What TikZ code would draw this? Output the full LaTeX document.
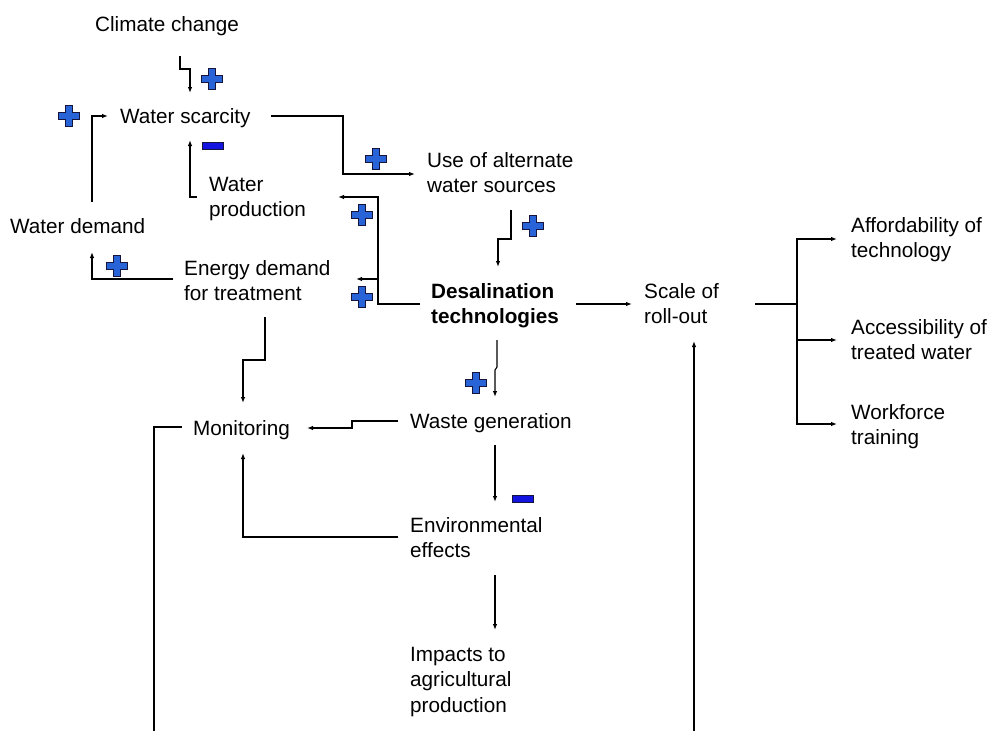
\documentclass[tikz,border=0pt]{standalone}
\usepackage{fontspec}
\setmainfont{Liberation Sans}
\usepackage{tikz}
\usetikzlibrary{arrows.meta}

\definecolor{plusblue}{RGB}{40,100,215}
\definecolor{minusblue}{RGB}{20,20,225}
\definecolor{signline}{RGB}{20,20,60}

\tikzset{
  lbl/.style={anchor=north west, inner sep=0pt, align=left, font=\fontsize{20.7}{25.5}\selectfont},
  link/.style={line width=1.1pt, -{Latex[length=6pt,width=4.5pt]}},
  wire/.style={line width=1.1pt},
  plus/.pic={\draw[signline, fill=plusblue, line width=0.8pt]
    (-3.8,-10.5) -- (3.8,-10.5) -- (3.8,-3.8) -- (10.5,-3.8) -- (10.5,3.8) -- (3.8,3.8)
    -- (3.8,10.5) -- (-3.8,10.5) -- (-3.8,3.8) -- (-10.5,3.8) -- (-10.5,-3.8) -- (-3.8,-3.8) -- cycle;},
  minus/.pic={\draw[signline, fill=minusblue, line width=0.8pt] (-10.5,-3.2) rectangle (10.5,3.2);}
}

\begin{document}
\begin{tikzpicture}[x=1pt, y=-1pt]
                    \useasboundingbox (0,0) rectangle (989,731);
                    % factors
                    \node[lbl] (cc) at (95,16) {Climate change};
                    \node[lbl] (ws) at (120,108) {Water scarcity};
                    \node[lbl] (alt) at (427,152) {Use of alternate\\water sources};
                    \node[lbl] (wp) at (209,177) {Water\\production};
                    \node[lbl] (wd) at (10,218) {Water demand};
                    \node[lbl] (ed) at (184,260) {Energy demand\\for treatment};
                    \node[lbl, font=\fontsize{20.7}{25.5}\selectfont\bfseries] (des) at (431,283) {Desalination\\technologies};
                    \node[lbl] (scale) at (644,283) {Scale of\\roll-out};
                    \node[lbl] (aff) at (851,217) {Affordability of\\technology};
                    \node[lbl] (acc) at (851,319) {Accessibility of\\treated water};
                    \node[lbl] (wf) at (851,404) {Workforce\\training};
                    \node[lbl] (mon) at (193,420) {Monitoring};
                    \node[lbl] (wg) at (410,413) {Waste generation};
                    \node[lbl] (env) at (410,517) {Environmental\\effects};
                    \node[lbl] (imp) at (410,647) {Impacts to\\agricultural\\production};
                    % connector ends
                    \coordinate (cc-out) at (180,56);
                    \coordinate (ws-in) at (190,93);
                    \coordinate (ws-out) at (271,116);
                    \coordinate (alt-in) at (415,174);
                    \coordinate (alt-out) at (511,210);
                    \coordinate (des-in) at (495,397);
                    \coordinate (des-top) at (498,267);
                    \coordinate (des-out) at (420,304);
                    \coordinate (des-right) at (576,304);
                    \coordinate (des-low) at (497,340);
                    \coordinate (scale-in) at (632,304);
                    \coordinate (scale-out) at (755,304);
                    \coordinate (fork) at (797,304);
                    \coordinate (mon-in) at (243,403);
                    \coordinate (mon-out) at (182,427);
                    \coordinate (bottom-l) at (154,731);
                    \coordinate (bottom-r) at (694,731);
                    % links
                    \draw[link] (cc-out) -- (180,69) -- (190,69) -- (ws-in);
                    \draw[link] (92,202) |- (108,116);
                    \draw[link] (197,197) -| (190,140);
                    \draw[link] (173,279) -| (92,252);
                    \draw[link] (ws-out) -| (343,174) -- (alt-in);
                    \draw[link] (alt-out) -- (511,239) -- (498,239) -- (des-top);
                    \draw[link] (des-out) -| (378,197) -- (338,197);
                    \draw[link] (378,279) -- (356,279);
                    \draw[link] (des-right) -- (scale-in);
                    \draw[wire] (scale-out) -- (fork);
                    \draw[link] (fork) |- (837,239);
                    \draw[link] (fork) |- (837,340);
                    \draw[link] (fork) |- (837,424);
                    \draw[link] (des-low) -- (497,367) -- (495,370) -- (des-in);
                    \draw[link] (265,317) |- (243,360) -- (mon-in);
                    \draw[link] (398,421) -- (352,421) -- (352,428) -- (307,428);
                    \draw[link] (495,445) -- (495,502);
                    \draw[link] (398,537) -| (243,453);
                    \draw[link] (495,575) -- (495,630);
                    \draw[wire] (mon-out) -| (bottom-l);
                    \draw[link] (bottom-r) -- (694,341);
                    % signs
                    \pic at (212,79) {plus};
                    \pic at (69,116) {plus};
                    \pic at (213,146) {minus};
                    \pic at (117,266) {plus};
                    \pic at (376,159) {plus};
                    \pic at (533,226) {plus};
                    \pic at (362,215) {plus};
                    \pic at (362,297) {plus};
                    \pic at (476,383) {plus};
                    \pic at (523,499) {minus};
                \end{tikzpicture}
\end{document}
